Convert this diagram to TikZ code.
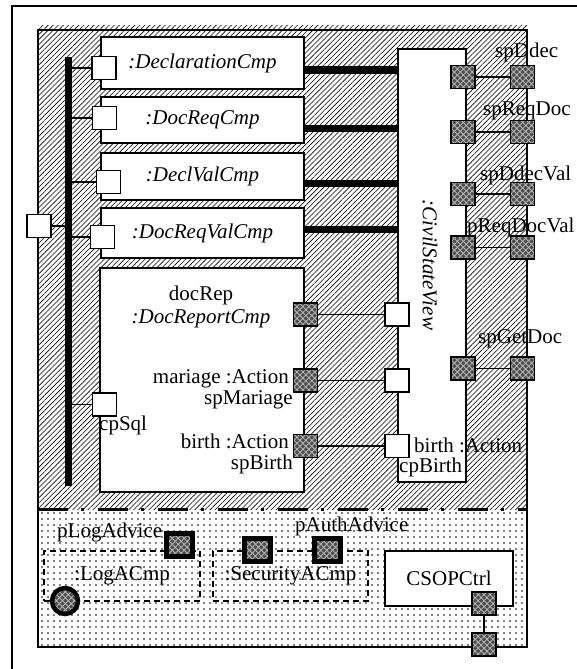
\documentclass[tikz,border=0pt]{standalone}
\usepackage{fontspec}
\setmainfont{Liberation Serif}
\usetikzlibrary{patterns,patterns.meta,calc,positioning}

\newcommand{\lblfont}{\fontsize{21}{23}\selectfont}

\tikzset{
  cmp/.style={draw, fill=white, line width=1.5pt, inner sep=0pt, font=\lblfont\itshape},
  ctrlbox/.style={draw, fill=white, line width=1.5pt, inner sep=0pt, font=\lblfont},
  advbox/.style={draw, dashed, line width=1.5pt, dash pattern=on 6pt off 4pt, inner sep=0pt, font=\lblfont},
  wport/.style={draw, fill=white, line width=1.5pt, minimum width=24, minimum height=23, inner sep=0pt},
  xhatch/.style={preaction={fill=black!70}, pattern={Hatch[angle=45, distance=4.2pt, line width=0.9pt]},
    pattern color=white!70!black},
  dport/.style={draw, line width=1.5pt, minimum width=24, minimum height=23, inner sep=0pt, xhatch},
  aport/.style={draw, line width=5pt, minimum width=26, minimum height=23, inner sep=0pt, xhatch},
  lbl/.style={inner sep=0pt, font=\lblfont},
  wire/.style={line width=1.6pt},
  link/.style={line width=7pt}
}

\begin{document}
\begin{tikzpicture}[x=1pt, y=-1pt]
  \useasboundingbox (0,0) rectangle (577,669);
  % outer frame, only its top and left sides show
  \draw[line width=1.6pt] (12,669) |- (577,6);

  % the composite: hatched functional part over the dotted aspect part
  \fill[pattern={Lines[angle=45, distance=3.6pt, line width=0.6pt]}] (38,26) rectangle (527,509);
  \fill[pattern={Dots[distance=6pt, radius=0.8pt]}] (38,509) rectangle (527,647);
  \draw[line width=1.5pt] (38,30) rectangle (527,647);
  \draw[line width=3pt, dash pattern=on 30pt off 13pt on 3pt off 14pt] (38,509) -- (527,509);

  % business components
  \node[cmp, minimum width=203, minimum height=52] (decl) at (202.5,63) {:DeclarationCmp};
  \node[cmp, minimum width=203, minimum height=46] (docreq) at (202.5,120) {:DocReqCmp};
  \node[cmp, minimum width=203, minimum height=47] (declval) at (202.5,176.5) {:DeclValCmp};
  \node[cmp, minimum width=203, minimum height=50] (docreqval) at (202.5,233) {:DocReqValCmp};
  \node[cmp, minimum width=204, minimum height=224] (docreport) at (202,380) {};
  \node[cmp, minimum width=68, minimum height=433] (civil) at (432,265.5) {};
  \node[lbl, font=\lblfont\itshape, rotate=-90] (civlbl) at (430,265) {:CivilStateView};

  % thick links towards the view
  \draw[link] ($(decl.east)+(0,7)$) -- ($(decl.east -| civil.west)+(0,7)$);
  \draw[link] ($(docreq.east)+(0,8)$) -- ($(docreq.east -| civil.west)+(0,8)$);
  \draw[link] ($(declval.east)+(0,6.5)$) -- ($(declval.east -| civil.west)+(0,6.5)$);
  \draw[link] ($(docreqval.east)+(0,-4)$) -- ($(docreqval.east -| civil.west)+(0,-4)$);

  % sql bus and its ports
  \node[fill=black, minimum width=7, minimum height=429, inner sep=0pt] (sqlbus) at (68.5,271.5) {};
  \node[wport] (pdecl) at (104,68) {};
  \node[wport] (pdocreq) at (104.5,118) {};
  \node[wport] (pdeclval) at (108.5,182) {};
  \node[wport] (pdocreqval) at (102.5,237) {};
  \node[wport] (cpsql) at (104.5,404.5) {};
  \node[wport] (pcomp) at (39,226) {};
  \draw[wire] (pdecl.west) -- (pdecl.west -| sqlbus.east);
  \draw[wire] (pdocreq.west) -- (pdocreq.west -| sqlbus.east);
  \draw[wire] (pdeclval.west) -- (pdeclval.west -| sqlbus.east);
  \draw[wire] (pdocreqval.west) -- (pdocreqval.west -| sqlbus.east);
  \draw[wire] (cpsql.west) -- (cpsql.west -| sqlbus.east);
  \draw[wire] (pcomp.east) -- (pcomp.east -| sqlbus.west);

  % report component labels and its ports
  \node[lbl, anchor=base] (ldocrep) at (201,300) {docRep};
  \node[lbl, anchor=base, font=\lblfont\itshape] (ldocreport) at (201,323) {:DocReportCmp};
  \node[lbl, anchor=base east] (lmar) at (289,383) {mariage :Action};
  \node[lbl, anchor=base east] (lspmar) at (293,404) {spMariage};
  \node[lbl, anchor=base west] (lcpsql) at (99,430) {cpSql};
  \node[lbl, anchor=base east] (lbirth) at (289,448) {birth :Action};
  \node[lbl, anchor=base east] (lspbirth) at (293,469) {spBirth};
  \node[lbl, anchor=base west] (lcvbirth) at (414,452) {birth :Action};
  \node[lbl, anchor=base west] (lcpbirth) at (399,472) {cpBirth};

  \node[dport] (rdoc) at (305.5,314.5) {};
  \node[dport] (rmar) at (305.5,380.5) {};
  \node[dport] (rbirth) at (305.5,446) {};
  \node[wport] (cvdoc) at (397,314.5) {};
  \node[wport] (cvmar) at (397,380.5) {};
  \node[wport] (cvbirth) at (397,446) {};
  \draw[wire] (rdoc.east) -- (cvdoc.west);
  \draw[wire] (rmar.east) -- (cvmar.west);
  \draw[wire] (rbirth.east) -- (cvbirth.west);

  % provided ports of the view, delegated to the composite
  \node[lbl, anchor=base west] (lddec) at (495,58) {spDdec};
  \node[lbl, anchor=base west] (lreqdoc) at (483,115) {spReqDoc};
  \node[lbl, anchor=base west] (lddecval) at (480,180) {spDdecVal};
  \node[lbl, anchor=base west] (lreqdocval) at (467,232) {pReqDocVal};
  \node[lbl, anchor=base west] (lgetdoc) at (478,343) {spGetDoc};
  \node[dport] (iddec) at (463,77) {};
  \node[dport] (oddec) at (522.5,77) {};
  \node[dport] (ireqdoc) at (463,132) {};
  \node[dport] (oreqdoc) at (522.5,132) {};
  \node[dport] (iddecval) at (463,194) {};
  \node[dport] (oddecval) at (522.5,194) {};
  \node[dport] (ireqdocval) at (463,247.5) {};
  \node[dport] (oreqdocval) at (522.5,247.5) {};
  \node[dport] (igetdoc) at (463,368.5) {};
  \node[dport] (ogetdoc) at (522.5,368.5) {};
  \draw[wire] (iddec.east) -- (oddec.west);
  \draw[wire] (ireqdoc.east) -- (oreqdoc.west);
  \draw[wire] (iddecval.east) -- (oddecval.west);
  \draw[wire] (ireqdocval.east) -- (oreqdocval.west);
  \draw[wire] (igetdoc.east) -- (ogetdoc.west);

  % aspect components
  \node[advbox, minimum width=156, minimum height=50] (logacmp) at (122,576) {:LogACmp};
  \node[advbox, minimum width=155, minimum height=50] (secacmp) at (290.5,576) {:SecurityACmp};
  \node[ctrlbox, minimum width=128, minimum height=55] (csopctrl) at (449,578.5) {CSOPCtrl};
  \node[lbl, anchor=base west] (llogadv) at (57,537) {pLogAdvice};
  \node[lbl, anchor=base west] (lauthadv) at (295,531) {pAuthAdvice};
  \node[circle, draw, line width=4.5pt, minimum size=26, inner sep=0pt, xhatch] (logport) at (65,601) {};
  \node[aport] (plogadv) at (179.5,545) {};
  \node[aport] (pauth1) at (257,550) {};
  \node[aport] (pauth2) at (327,550) {};
  \node[dport] (ctrlin) at (484,603.5) {};
  \node[dport] (ctrlout) at (484,644.5) {};
  \draw[wire] (ctrlin.south) -- (ctrlout.north);
\end{tikzpicture}
\end{document}
